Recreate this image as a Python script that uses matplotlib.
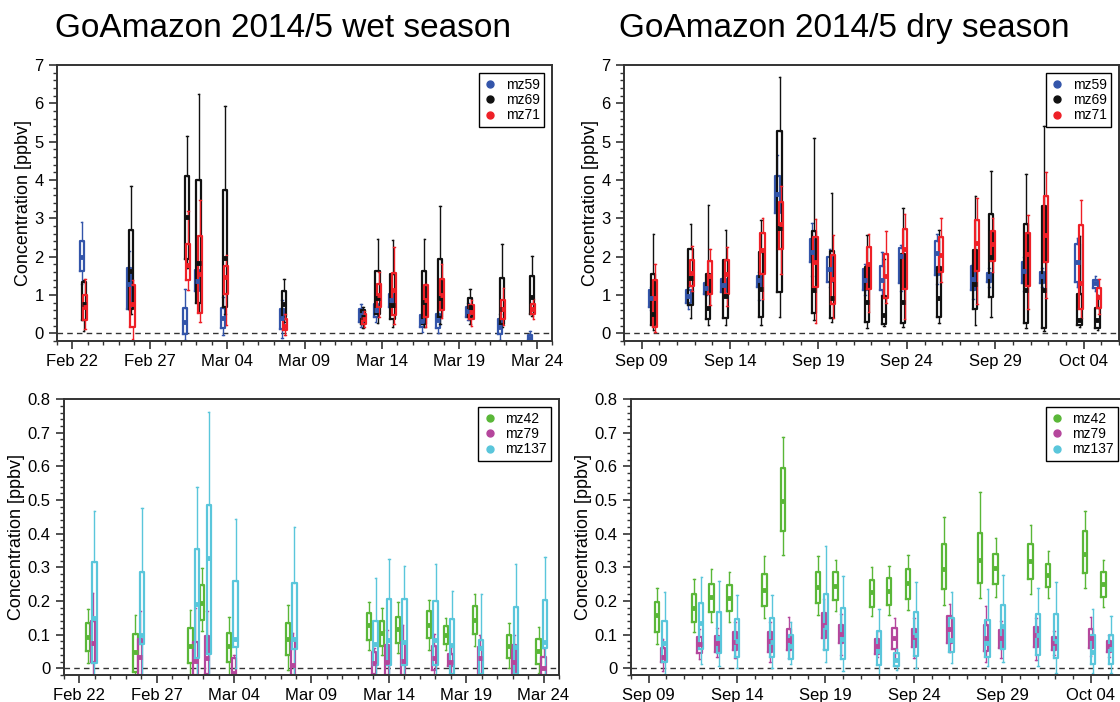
import numpy as np
import matplotlib
matplotlib.use("Agg")
import matplotlib.pyplot as plt
import matplotlib.dates as mdates
from matplotlib.lines import Line2D
from matplotlib.ticker import MultipleLocator

plt.rcParams['font.family'] = ['Liberation Sans', 'DejaVu Sans']

# box stats per day: (whisker low, q1, median, q3, whisker high)

# wet season, days after 2014-02-22
wet_days = [0.72, 3.79, 7.39, 8.15, 9.85, 13.66, 18.77, 19.72, 20.69, 22.74, 23.77, 25.70, 27.76, 29.70]
wet_mz59 = [(1.30, 1.62, 1.99, 2.40, 2.91), (0.60, 0.64, 1.28, 1.71, 2.15), (-0.17, -0.01, 0.30, 0.66, 1.17),
            (1.00, 1.10, 1.37, 1.65, 1.90), (-0.03, 0.14, 0.41, 0.66, 0.95), (-0.11, 0.12, 0.40, 0.64, 0.86),
            (0.17, 0.30, 0.47, 0.64, 0.76), (0.30, 0.43, 0.62, 0.77, 0.90), (0.60, 0.69, 0.88, 1.04, 1.10),
            (0.03, 0.17, 0.31, 0.47, 0.60), (0.01, 0.15, 0.34, 0.51, 0.64), (0.35, 0.43, 0.58, 0.69, 0.80),
            (-0.17, -0.01, 0.17, 0.38, 0.51), (-0.20, -0.18, -0.11, -0.05, 0.06)]
wet_mz69 = [(0.05, 0.36, 0.77, 1.34, 1.40), (0.50, 0.64, 1.62, 2.71, 3.85), (1.70, 1.95, 3.04, 4.10, 5.14),
            (0.55, 0.79, 1.84, 4.01, 6.26), (0.50, 0.69, 1.97, 3.73, 5.93), (0.30, 0.43, 0.77, 1.10, 1.43),
            (0.14, 0.25, 0.44, 0.60, 0.70), (0.28, 0.51, 0.91, 1.64, 2.47), (0.17, 0.37, 0.73, 1.56, 2.43),
            (0.17, 0.25, 0.82, 1.63, 2.46), (0.25, 0.43, 0.91, 1.94, 3.32), (0.25, 0.43, 0.70, 0.92, 1.17),
            (0.17, 0.25, 0.64, 1.45, 2.34), (0.45, 0.51, 0.95, 1.49, 2.02)]
wet_mz71 = [(0.12, 0.36, 0.69, 0.99, 1.43), (-0.14, 0.17, 0.77, 1.27, 1.40), (1.12, 1.38, 1.78, 2.34, 3.19),
            (0.30, 0.54, 1.56, 2.54, 3.47), (0.21, 1.04, 1.47, 1.76, 2.04), (-0.05, 0.08, 0.20, 0.38, 0.51),
            (0.17, 0.25, 0.38, 0.51, 0.58), (0.43, 0.69, 0.99, 1.30, 1.60), (0.25, 0.47, 1.14, 1.58, 2.25),
            (0.17, 0.43, 0.88, 1.25, 1.30), (0.40, 0.60, 0.99, 1.43, 1.82), (0.18, 0.38, 0.56, 0.73, 0.88),
            (0.21, 0.38, 0.64, 0.88, 1.19), (0.38, 0.50, 0.64, 0.77, 0.90)]

wet_days_b = [0.86, 3.94, 7.50, 8.25, 9.98, 13.79, 19.03, 19.89, 20.90, 22.91, 23.99, 25.87, 28.09, 30.00]
wet_mz42 = [(0.016, 0.052, 0.093, 0.135, 0.175), (-0.02, -0.011, 0.047, 0.101, 0.158), (-0.02, 0.016, 0.066, 0.120, 0.173),
            (0.110, 0.143, 0.195, 0.247, 0.299), (-0.02, 0.019, 0.066, 0.106, 0.153), (-0.006, 0.039, 0.086, 0.135, 0.188),
            (0.054, 0.083, 0.128, 0.163, 0.197), (0.039, 0.066, 0.106, 0.140, 0.180), (0.044, 0.075, 0.118, 0.153, 0.197),
            (0.054, 0.090, 0.130, 0.170, 0.202), (0.054, 0.073, 0.100, 0.125, 0.148), (0.066, 0.103, 0.143, 0.185, 0.222),
            (0.000, 0.029, 0.066, 0.100, 0.133), (-0.014, 0.014, 0.051, 0.088, 0.123)]
wet_mz79 = [(-0.03, 0.019, 0.076, 0.141, 0.224), (-0.03, -0.02, 0.032, 0.088, 0.170), (-0.03, -0.02, 0.021, 0.078, 0.180),
            (-0.03, -0.016, 0.029, 0.096, 0.170), (-0.03, -0.03, -0.015, 0.030, 0.040), (-0.03, -0.02, 0.011, 0.083, 0.106),
            (-0.03, -0.016, 0.016, 0.049, 0.060), (-0.03, -0.02, 0.019, 0.069, 0.115), (-0.03, -0.02, 0.021, 0.078, 0.130),
            (-0.03, -0.006, 0.031, 0.066, 0.103), (-0.03, 0.006, 0.019, 0.041, 0.060), (-0.03, -0.02, 0.031, 0.063, 0.098),
            (-0.03, -0.02, 0.019, 0.068, 0.098), (-0.03, -0.02, 0.000, 0.034, 0.060)]
wet_mz137 = [(-0.03, 0.016, 0.150, 0.316, 0.467), (-0.03, 0.071, 0.100, 0.285, 0.475), (-0.03, 0.029, 0.192, 0.354, 0.538),
             (-0.03, 0.041, 0.328, 0.485, 0.763), (0.000, 0.063, 0.088, 0.259, 0.443), (-0.03, 0.057, 0.088, 0.252, 0.420),
             (-0.03, 0.011, 0.073, 0.141, 0.267), (-0.03, 0.011, 0.083, 0.207, 0.324), (-0.03, 0.009, 0.078, 0.207, 0.305),
             (-0.03, 0.011, 0.083, 0.200, 0.311), (-0.03, -0.016, 0.068, 0.145, 0.229), (-0.03, -0.016, 0.060, 0.085, 0.222),
             (-0.03, -0.016, 0.063, 0.183, 0.309), (-0.03, 0.059, 0.078, 0.202, 0.331)]

# dry season, days after 2014-09-09
dry_days = [0.66, 2.77, 3.77, 4.75, 6.75, 7.80, 9.75, 10.75, 12.75, 13.72, 14.79, 16.83, 18.87, 19.77, 21.75, 22.77, 24.77, 25.79]
dry_mz59 = [(0.60, 0.70, 0.93, 1.14, 1.20), (0.64, 0.79, 0.97, 1.12, 1.20), (1.00, 1.04, 1.18, 1.31, 1.35),
            (1.00, 1.08, 1.25, 1.43, 1.50), (0.88, 1.21, 1.38, 1.51, 1.60), (2.90, 3.15, 3.63, 4.11, 4.66),
            (1.50, 1.86, 2.12, 2.47, 2.88), (1.20, 1.34, 1.69, 1.99, 2.21), (1.00, 1.14, 1.40, 1.69, 1.80),
            (1.00, 1.12, 1.40, 1.75, 2.12), (1.10, 1.32, 2.01, 2.23, 2.30), (1.30, 1.53, 2.10, 2.40, 2.60),
            (0.90, 1.12, 1.43, 1.75, 1.80), (1.20, 1.34, 1.49, 1.58, 1.70), (1.10, 1.31, 1.63, 1.86, 2.00),
            (1.20, 1.31, 1.49, 1.60, 1.70), (1.20, 1.34, 1.85, 2.34, 2.50), (1.10, 1.19, 1.31, 1.40, 1.51)]
dry_mz69 = [(0.08, 0.21, 0.50, 1.54, 2.60), (0.41, 0.73, 1.45, 2.21, 2.86), (0.23, 0.38, 0.67, 1.56, 3.36),
            (0.23, 0.41, 0.97, 1.91, 2.71), (0.23, 0.44, 1.16, 2.12, 2.97), (0.43, 1.08, 2.76, 5.27, 6.68),
            (0.36, 0.54, 1.14, 2.67, 5.10), (0.30, 0.41, 0.91, 2.15, 3.66), (0.14, 0.30, 0.82, 1.72, 2.58),
            (0.19, 0.25, 0.47, 0.97, 1.95), (0.17, 0.27, 0.82, 2.06, 3.28), (0.28, 0.44, 0.93, 1.73, 2.70),
            (0.21, 0.63, 1.30, 2.18, 3.59), (0.43, 0.95, 1.99, 3.11, 4.23), (0.14, 0.27, 1.12, 2.85, 4.17),
            (0.06, 0.15, 1.12, 3.32, 5.41), (0.17, 0.21, 0.34, 1.04, 2.53), (0.08, 0.14, 0.34, 0.66, 1.00)]
dry_mz71 = [(0.03, 0.17, 0.93, 1.40, 1.82), (1.10, 1.24, 1.58, 1.92, 2.28), (0.73, 1.04, 1.51, 1.88, 2.21),
            (0.71, 1.04, 1.56, 1.91, 2.25), (0.90, 1.56, 2.17, 2.63, 3.02), (1.56, 2.21, 2.85, 3.43, 3.85),
            (0.28, 1.21, 1.86, 2.52, 2.99), (0.40, 0.77, 1.43, 2.04, 2.58), (0.56, 1.17, 1.82, 2.25, 2.60),
            (0.80, 0.93, 1.51, 2.08, 2.67), (0.38, 1.17, 2.21, 2.73, 3.11), (1.34, 1.60, 2.04, 2.52, 3.02),
            (0.77, 1.63, 2.37, 2.97, 3.53), (1.60, 1.89, 2.32, 2.67, 3.00), (0.64, 1.23, 2.06, 2.63, 3.08),
            (0.91, 1.85, 2.56, 3.59, 4.21), (0.40, 0.64, 1.31, 2.84, 3.47), (0.50, 0.67, 0.95, 1.18, 1.41)]

dry_days_b = [0.79, 2.87, 3.87, 4.89, 6.87, 7.92, 9.90, 10.89, 12.93, 13.91, 15.00, 17.02, 19.06, 19.94, 21.92, 22.92, 25.00, 26.04]
dry_mz42 = [(0.071, 0.108, 0.158, 0.197, 0.239), (0.108, 0.138, 0.180, 0.220, 0.264), (0.136, 0.168, 0.212, 0.250, 0.294),
            (0.136, 0.170, 0.210, 0.247, 0.287), (0.150, 0.185, 0.232, 0.279, 0.333), (0.336, 0.408, 0.497, 0.594, 0.688),
            (0.158, 0.195, 0.242, 0.285, 0.333), (0.171, 0.202, 0.244, 0.285, 0.323), (0.154, 0.183, 0.227, 0.263, 0.301),
            (0.158, 0.189, 0.229, 0.267, 0.305), (0.173, 0.207, 0.252, 0.295, 0.338), (0.188, 0.235, 0.295, 0.368, 0.450),
            (0.210, 0.252, 0.321, 0.403, 0.525), (0.212, 0.249, 0.299, 0.341, 0.386), (0.220, 0.265, 0.319, 0.369, 0.426),
            (0.210, 0.242, 0.277, 0.309, 0.348), (0.239, 0.282, 0.339, 0.408, 0.468), (0.183, 0.212, 0.249, 0.287, 0.323)]
dry_mz79 = [(-0.009, 0.019, 0.034, 0.061, 0.088), (0.026, 0.044, 0.073, 0.093, 0.118), (0.032, 0.049, 0.076, 0.096, 0.120),
            (0.029, 0.054, 0.078, 0.108, 0.138), (0.019, 0.049, 0.080, 0.108, 0.138), (0.029, 0.054, 0.085, 0.118, 0.153),
            (0.057, 0.091, 0.128, 0.163, 0.207), (0.039, 0.075, 0.103, 0.128, 0.160), (0.033, 0.043, 0.066, 0.087, 0.112),
            (0.024, 0.057, 0.090, 0.120, 0.150), (0.029, 0.063, 0.093, 0.118, 0.150), (0.049, 0.076, 0.118, 0.155, 0.190),
            (0.019, 0.051, 0.090, 0.128, 0.186), (0.029, 0.059, 0.090, 0.113, 0.140), (0.024, 0.063, 0.098, 0.123, 0.148),
            (0.039, 0.054, 0.076, 0.093, 0.110), (0.037, 0.061, 0.090, 0.118, 0.153), (0.034, 0.049, 0.066, 0.080, 0.100)]
dry_mz137 = [(-0.016, 0.019, 0.076, 0.141, 0.227), (0.014, 0.057, 0.133, 0.195, 0.270), (0.006, 0.044, 0.090, 0.166, 0.260),
             (0.000, 0.034, 0.080, 0.146, 0.217), (0.001, 0.034, 0.078, 0.148, 0.217), (0.014, 0.027, 0.066, 0.098, 0.138),
             (0.019, 0.054, 0.123, 0.222, 0.364), (-0.009, 0.026, 0.088, 0.180, 0.275), (-0.020, 0.010, 0.051, 0.110, 0.176),
             (-0.006, 0.006, 0.024, 0.044, 0.057), (0.001, 0.036, 0.100, 0.166, 0.255), (0.017, 0.049, 0.085, 0.148, 0.227),
             (0.007, 0.034, 0.076, 0.143, 0.235), (0.019, 0.057, 0.125, 0.188, 0.277), (0.007, 0.039, 0.100, 0.161, 0.239),
             (-0.013, 0.031, 0.080, 0.160, 0.257), (-0.014, 0.014, 0.047, 0.100, 0.176), (-0.014, 0.014, 0.057, 0.100, 0.155)]

top_names = ['mz59', 'mz69', 'mz71']
top_colors = ['#3355aa', '#111111', '#ee2027']
bot_names = ['mz42', 'mz79', 'mz137']
bot_colors = ['#5ab738', '#b5469c', '#5ac6db']


def draw_boxes(ax, t0, days, stats, offset, width, color):
    pos = mdates.date2num(np.datetime64(t0)) + np.asarray(days) + offset
    bx = [dict(whislo=s[0], q1=s[1], med=s[2], q3=s[3], whishi=s[4], fliers=[]) for s in stats]
    ax.bxp(bx, positions=pos, widths=width, capwidths=width * 0.35, showfliers=False,
           manage_ticks=False,
           boxprops=dict(color=color, lw=1.6),
           whiskerprops=dict(color=color, lw=1.0),
           capprops=dict(color=color, lw=1.0),
           medianprops=dict(color=color, lw=3.5, solid_capstyle='butt'))


def setup(ax, xstart, xend, tick0, ymax, ymaj, ymin, names, colors):
    ax.xaxis_date()
    ax.set_xticks(mdates.date2num(np.datetime64(tick0)) + np.arange(0, 35, 5))
    ax.set_xlim(mdates.date2num(np.datetime64(xstart)), mdates.date2num(np.datetime64(xend)))
    ax.xaxis.set_major_formatter(mdates.DateFormatter('%b %d'))
    ax.xaxis.set_minor_locator(MultipleLocator(1))
    ax.set_ylim(-0.2 if ymax > 1 else -0.02, ymax)
    ax.yaxis.set_major_locator(MultipleLocator(ymaj))
    ax.yaxis.set_minor_locator(MultipleLocator(ymin))
    if ymax < 1:
        ax.yaxis.set_major_formatter(plt.FuncFormatter(lambda v, p: '0' if abs(v) < 1e-9 else f'{v:.1f}'))
    ax.axhline(0, color='#333333', ls=(0, (4, 3)), lw=1.0, zorder=0)
    ax.set_ylabel('Concentration [ppbv]', fontsize=13, labelpad=2)
    ax.tick_params(which='major', labelsize=12, length=6, width=1.2, color='#333333')
    ax.tick_params(which='minor', length=3, width=1.0, color='#333333')
    for sp in ax.spines.values():
        sp.set_linewidth(1.4)
        sp.set_color('#333333')
    handles = [Line2D([], [], marker='o', ls='none', color=c, markersize=5) for c in colors]
    leg = ax.legend(handles, names, loc='upper right', fontsize=10, frameon=True, fancybox=False,
                    edgecolor='black', framealpha=1, handlelength=1.0, handletextpad=0.6,
                    labelspacing=0.1, borderpad=0.3, borderaxespad=0.6)
    leg.get_frame().set_linewidth(1.0)


fig = plt.figure(figsize=(11.2, 7.02), dpi=100)
ax1 = fig.add_axes([0.0509, 0.5142, 0.442, 0.393])
ax2 = fig.add_axes([0.5571, 0.5142, 0.442, 0.393])
ax3 = fig.add_axes([0.0571, 0.0385, 0.442, 0.393])
ax4 = fig.add_axes([0.5634, 0.0385, 0.442, 0.393])

top_off = [-0.12, 0.0, 0.09]
bot_off = [-0.32, 0.0, 0.11]

for series, off, c in zip([wet_mz59, wet_mz69, wet_mz71], top_off, top_colors):
    draw_boxes(ax1, '2014-02-22', wet_days, series, off, 0.27, c)
for series, off, c in zip([dry_mz59, dry_mz69, dry_mz71], top_off, top_colors):
    draw_boxes(ax2, '2014-09-09', dry_days, series, off, 0.24, c)
for series, off, c in zip([wet_mz42, wet_mz79, wet_mz137], bot_off, bot_colors):
    draw_boxes(ax3, '2014-02-22', wet_days_b, series, off, 0.27, c)
for series, off, c in zip([dry_mz42, dry_mz79, dry_mz137], bot_off, bot_colors):
    draw_boxes(ax4, '2014-09-09', dry_days_b, series, off, 0.24, c)

setup(ax1, '2014-02-21', '2014-03-25', '2014-02-22', 7, 1, 0.2, top_names, top_colors)
setup(ax2, '2014-09-08', '2014-10-06', '2014-09-09', 7, 1, 0.2, top_names, top_colors)
setup(ax3, '2014-02-21', '2014-03-25', '2014-02-22', 0.8, 0.1, 0.02, bot_names, bot_colors)
setup(ax4, '2014-09-08', '2014-10-06', '2014-09-09', 0.8, 0.1, 0.02, bot_names, bot_colors)

fig.text(0.049, 0.982, 'GoAmazon 2014/5 wet season', fontsize=24, va='top', ha='left')
fig.text(0.553, 0.982, 'GoAmazon 2014/5 dry season', fontsize=24, va='top', ha='left')

fig.savefig('out.png', dpi=100)
